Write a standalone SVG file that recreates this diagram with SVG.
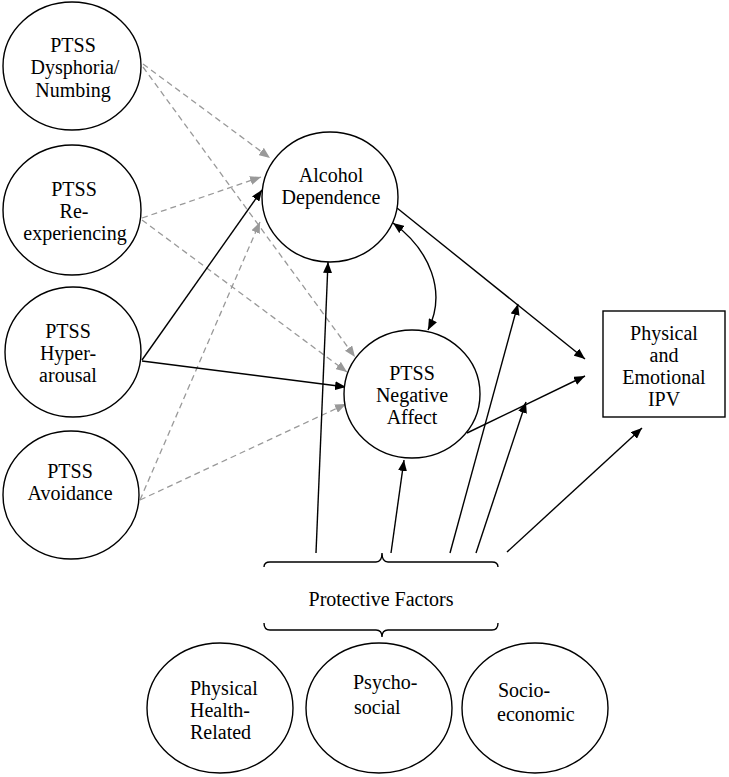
<svg xmlns="http://www.w3.org/2000/svg" width="729" height="777" viewBox="0 0 729 777">
<defs>
<marker id="ab" markerUnits="userSpaceOnUse" markerWidth="12" markerHeight="9" refX="11" refY="4.5" orient="auto-start-reverse"><path d="M0,0 L11,4.5 L0,9 z" fill="#000"/></marker>
<marker id="ag" markerUnits="userSpaceOnUse" markerWidth="12" markerHeight="9" refX="11" refY="4.5" orient="auto"><path d="M0,0 L11,4.5 L0,9 z" fill="#999"/></marker>
</defs>
<style>
.n{fill:#fff;stroke:#000;stroke-width:1.4}
.t{font-family:'Liberation Serif','Times New Roman',serif;font-size:20px;fill:#000}
.c{text-anchor:middle}
.s{fill:none;stroke:#000;stroke-width:1.4;marker-end:url(#ab)}
.d{fill:none;stroke:#999;stroke-width:1.3;stroke-dasharray:6,4;marker-end:url(#ag)}
.b{fill:none;stroke:#000;stroke-width:1.4}
</style>
<rect width="729" height="777" fill="#fff"/>
<g id="connectors">
<line class="d" x1="143" y1="64" x2="270" y2="158"/>
<line class="d" x1="143" y1="67" x2="355" y2="357"/>
<line class="d" x1="142" y1="218" x2="261" y2="177"/>
<line class="d" x1="142" y1="220" x2="347" y2="372"/>
<line class="d" x1="140" y1="500" x2="260" y2="222"/>
<line class="d" x1="140" y1="500" x2="346" y2="404"/>
<line class="s" x1="142" y1="360" x2="262" y2="190"/>
<line class="s" x1="142" y1="361" x2="346" y2="387"/>
<line class="s" x1="397" y1="208" x2="585" y2="359"/>
<line class="s" x1="467" y1="433" x2="585" y2="376"/>
<path class="s" d="M393,223 C430,250 447,292 428,330" style="marker-start:url(#ab)"/>
<line class="s" x1="316" y1="553" x2="328" y2="262"/>
<line class="s" x1="391" y1="553" x2="404" y2="460"/>
<line class="s" x1="450" y1="553" x2="518" y2="304"/>
<line class="s" x1="476" y1="553" x2="526" y2="402"/>
<line class="s" x1="507" y1="552" x2="642" y2="428"/>
</g>
<g id="dysphoria"><ellipse class="n" cx="72" cy="66" rx="69" ry="64"/>
<text class="t c" x="73" y="52">PTSS</text><text class="t c" x="75" y="74">Dysphoria/</text><text class="t c" x="73" y="97">Numbing</text></g>
<g id="reexperiencing"><ellipse class="n" cx="72" cy="210" rx="69" ry="65"/>
<text class="t c" x="74" y="196">PTSS</text><text class="t c" x="74" y="218">Re-</text><text class="t c" x="75" y="240">experiencing</text></g>
<g id="hyperarousal"><ellipse class="n" cx="73" cy="352" rx="68" ry="65"/>
<text class="t c" x="68" y="338">PTSS</text><text class="t c" x="68" y="360">Hyper-</text><text class="t c" x="68" y="382">arousal</text></g>
<g id="avoidance"><ellipse class="n" cx="71" cy="495" rx="68" ry="64"/>
<text class="t c" x="70" y="478">PTSS</text><text class="t c" x="70" y="500">Avoidance</text></g>
<g id="alcohol"><ellipse class="n" cx="330" cy="197" rx="68" ry="65"/>
<text class="t c" x="331" y="182">Alcohol</text><text class="t c" x="331" y="204">Dependence</text></g>
<g id="negaffect"><ellipse class="n" cx="412" cy="394" rx="68" ry="64"/>
<text class="t c" x="412" y="380">PTSS</text><text class="t c" x="412" y="402">Negative</text><text class="t c" x="412" y="424">Affect</text></g>
<g id="ipv"><rect class="n" x="603" y="311" width="122" height="106"/>
<text class="t c" x="664" y="340">Physical</text><text class="t c" x="664" y="362">and</text><text class="t c" x="664" y="384">Emotional</text><text class="t c" x="664" y="406">IPV</text></g>
<g id="protective">
<path class="b" d="M264,567 Q264,562 270,562 L376,562 Q382,562 382,553 Q382,562 388,562 L492,562 Q498,562 498,567"/>
<path class="b" d="M264,623 Q264,630 270,630 L376,630 Q382,630 382,637 Q382,630 388,630 L492,630 Q498,630 498,623"/>
<text class="t c" x="381" y="606">Protective Factors</text></g>
<g id="physhealth"><ellipse class="n" cx="220" cy="708" rx="73" ry="65"/>
<text class="t" x="190" y="695">Physical</text><text class="t" x="190" y="717">Health-</text><text class="t" x="190" y="739">Related</text></g>
<g id="psychosocial"><ellipse class="n" cx="379" cy="708" rx="73" ry="65"/>
<text class="t" x="353" y="689">Psycho-</text><text class="t" x="354" y="714">social</text></g>
<g id="socioeconomic"><ellipse class="n" cx="535" cy="708" rx="73" ry="65"/>
<text class="t" x="498" y="697">Socio-</text><text class="t" x="497" y="721">economic</text></g>
</svg>
